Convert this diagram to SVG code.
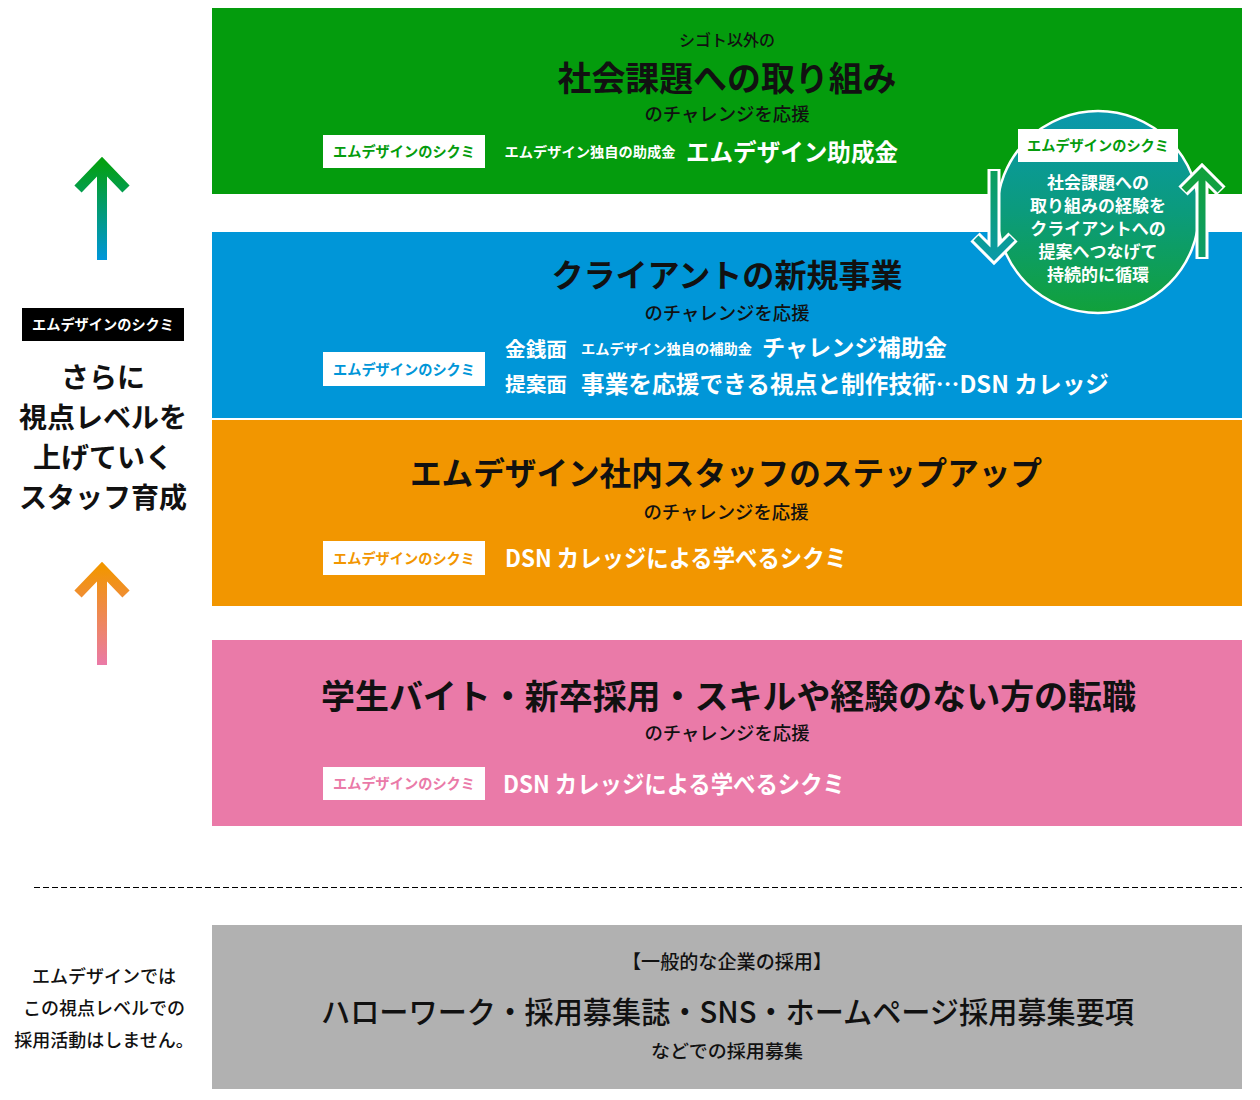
<svg xmlns="http://www.w3.org/2000/svg" width="1260" height="1100" viewBox="0 0 1260 1100">
<style>
text{font-family:"Noto Sans CJK JP","Noto Sans",sans-serif;text-anchor:middle}
.t{font-weight:700;fill:#111}
.s{font-weight:500;fill:#111}
.w{font-weight:700;fill:#fff}
.lbl{font-weight:700;font-size:14.5px}
.box{fill:#fff}
</style>
<defs>
<linearGradient id="gArrow" x1="0" y1="0" x2="0" y2="1">
<stop offset="0" stop-color="#04a011"/><stop offset="1" stop-color="#0096db"/>
</linearGradient>
<linearGradient id="oArrow" x1="0" y1="0" x2="0" y2="1">
<stop offset="0" stop-color="#f29600"/><stop offset="1" stop-color="#ea7aa8"/>
</linearGradient>
<linearGradient id="circ" x1="0" y1="0" x2="0" y2="1">
<stop offset="0" stop-color="#0a98ad"/><stop offset="0.5" stop-color="#0b9b7c"/><stop offset="1" stop-color="#11a13a"/>
</linearGradient>
<linearGradient id="cArrowL" x1="0" y1="170" x2="0" y2="258" gradientUnits="userSpaceOnUse">
<stop offset="0" stop-color="#0b9f5a"/><stop offset="1" stop-color="#0a9aa6"/>
</linearGradient>
<linearGradient id="cArrowR" x1="0" y1="170" x2="0" y2="258" gradientUnits="userSpaceOnUse">
<stop offset="0" stop-color="#11a13a"/><stop offset="1" stop-color="#0d9c6a"/>
</linearGradient>
</defs>
<rect width="1260" height="1100" fill="#fff"/>

<g id="level-social">
<rect x="212" y="8" width="1030" height="186" fill="#049c0d"/>
<text x="727" y="46" class="s" font-size="16">シゴト以外の</text>
<text x="727" y="91" class="t" font-size="34" textLength="339" lengthAdjust="spacingAndGlyphs">社会課題への取り組み</text>
<text x="727" y="121" class="s" font-size="18.5" textLength="165" lengthAdjust="spacingAndGlyphs">のチャレンジを応援</text>
<rect x="323" y="135" width="162" height="33" class="box"/>
<text x="404" y="157" class="lbl" fill="#049c0d" textLength="142" lengthAdjust="spacingAndGlyphs">エムデザインのシクミ</text>
<text x="590" y="157" class="w" font-size="14" textLength="171" lengthAdjust="spacingAndGlyphs">エムデザイン独自の助成金</text>
<text x="792" y="161" class="w" font-size="24" textLength="212" lengthAdjust="spacingAndGlyphs">エムデザイン助成金</text>
</g>

<g id="level-client">
<rect x="212" y="232" width="1030" height="186" fill="#0096d8"/>
<text x="727" y="287" class="t" font-size="32" textLength="351" lengthAdjust="spacingAndGlyphs">クライアントの新規事業</text>
<text x="727" y="320" class="s" font-size="18.5" textLength="165" lengthAdjust="spacingAndGlyphs">のチャレンジを応援</text>
<rect x="323" y="352" width="162" height="34" class="box"/>
<text x="404" y="375" class="lbl" fill="#0096d8" textLength="142" lengthAdjust="spacingAndGlyphs">エムデザインのシクミ</text>
<text x="536" y="357" class="w" font-size="20" textLength="62" lengthAdjust="spacingAndGlyphs">金銭面</text>
<text x="666.5" y="354" class="w" font-size="14" textLength="171" lengthAdjust="spacingAndGlyphs">エムデザイン独自の補助金</text>
<text x="854.5" y="356" class="w" font-size="23" textLength="185" lengthAdjust="spacingAndGlyphs">チャレンジ補助金</text>
<text x="536" y="392" class="w" font-size="20" textLength="62" lengthAdjust="spacingAndGlyphs">提案面</text>
<text x="845" y="393" class="w" font-size="24" textLength="528" lengthAdjust="spacingAndGlyphs">事業を応援できる視点と制作技術…DSN カレッジ</text>
</g>

<g id="level-staff">
<rect x="212" y="420" width="1030" height="186" fill="#f29600"/>
<text x="726" y="485" class="t" font-size="32" textLength="632" lengthAdjust="spacingAndGlyphs">エムデザイン社内スタッフのステップアップ</text>
<text x="726" y="519" class="s" font-size="18.5" textLength="165" lengthAdjust="spacingAndGlyphs">のチャレンジを応援</text>
<rect x="323" y="541" width="162" height="34" class="box"/>
<text x="404" y="564" class="lbl" fill="#f29600" textLength="142" lengthAdjust="spacingAndGlyphs">エムデザインのシクミ</text>
<text x="676" y="567" class="w" font-size="24" textLength="342" lengthAdjust="spacingAndGlyphs">DSN カレッジによる学べるシクミ</text>
</g>

<g id="level-entry">
<rect x="212" y="640" width="1030" height="186" fill="#ea7aa8"/>
<text x="728.5" y="709" class="t" font-size="34" textLength="815" lengthAdjust="spacingAndGlyphs">学生バイト・新卒採用・スキルや経験のない方の転職</text>
<text x="727" y="740" class="s" font-size="18.5" textLength="165" lengthAdjust="spacingAndGlyphs">のチャレンジを応援</text>
<rect x="323" y="767" width="162" height="33" class="box"/>
<text x="404" y="789" class="lbl" fill="#ea7aa8" textLength="142" lengthAdjust="spacingAndGlyphs">エムデザインのシクミ</text>
<text x="674" y="793" class="w" font-size="24" textLength="342" lengthAdjust="spacingAndGlyphs">DSN カレッジによる学べるシクミ</text>
</g>

<g id="level-general">
<rect x="212" y="925" width="1030" height="164" fill="#b1b1b1"/>
<text x="727" y="969" class="s" font-size="19" textLength="210" lengthAdjust="spacingAndGlyphs">【一般的な企業の採用】</text>
<text x="727.5" y="1023" class="s" font-size="30" textLength="813" lengthAdjust="spacingAndGlyphs">ハローワーク・採用募集誌・SNS・ホームページ採用募集要項</text>
<text x="727" y="1058" class="s" font-size="18.5" textLength="152" lengthAdjust="spacingAndGlyphs">などでの採用募集</text>
</g>

<g id="cycle">
<circle cx="1098" cy="212" r="101" fill="url(#circ)" stroke="#fff" stroke-width="2.5"/>
<rect x="1018" y="129" width="160" height="33" class="box"/>
<text x="1098" y="151" class="lbl" fill="#049c0d" textLength="142" lengthAdjust="spacingAndGlyphs">エムデザインのシクミ</text>
<g class="w" font-size="17">
<text x="1098" y="189">社会課題への</text>
<text x="1098" y="212">取り組みの経験を</text>
<text x="1098" y="235">クライアントへの</text>
<text x="1098" y="258">提案へつなげて</text>
<text x="1098" y="281">持続的に循環</text>
</g>
</g>

<g id="connectors" fill="none" stroke-linejoin="miter" stroke-linecap="butt">
<g stroke="#fff" stroke-width="13">
<path d="M994 169 V254 M975 237 L994 256 L1013 237"/>
<path d="M1202 259 V174 M1183 191 L1202 172 L1221 191"/>
</g>
<path d="M994 171 V253 M976 238 L994 256 L1012 238" stroke="url(#cArrowL)" stroke-width="7"/>
<path d="M1202 257 V175 M1184 190 L1202 172 L1220 190" stroke="url(#cArrowR)" stroke-width="7"/>
<path d="M102 260 V162 M78 189 L102 164 L126 189" stroke="url(#gArrow)" stroke-width="10"/>
<path d="M102 665 V567 M78 594 L102 569 L126 594" stroke="url(#oArrow)" stroke-width="10"/>
<line x1="34" y1="887.5" x2="1242" y2="887.5" stroke="#000" stroke-width="1.2" stroke-dasharray="6 3"/>
</g>

<g id="side-note">
<rect x="22" y="308" width="162" height="33" fill="#000"/>
<text x="103" y="330" class="lbl" fill="#fff" textLength="142" lengthAdjust="spacingAndGlyphs">エムデザインのシクミ</text>
<g class="s" font-size="28" style="font-weight:700">
<text x="103" y="388">さらに</text>
<text x="103" y="428">視点レベルを</text>
<text x="103" y="468">上げていく</text>
<text x="103" y="508">スタッフ育成</text>
</g>
</g>

<g id="bottom-note" class="s" font-size="18">
<text x="104" y="983">エムデザインでは</text>
<text x="104" y="1015">この視点レベルでの</text>
<text x="104" y="1047">採用活動はしません。</text>
</g>
</svg>
